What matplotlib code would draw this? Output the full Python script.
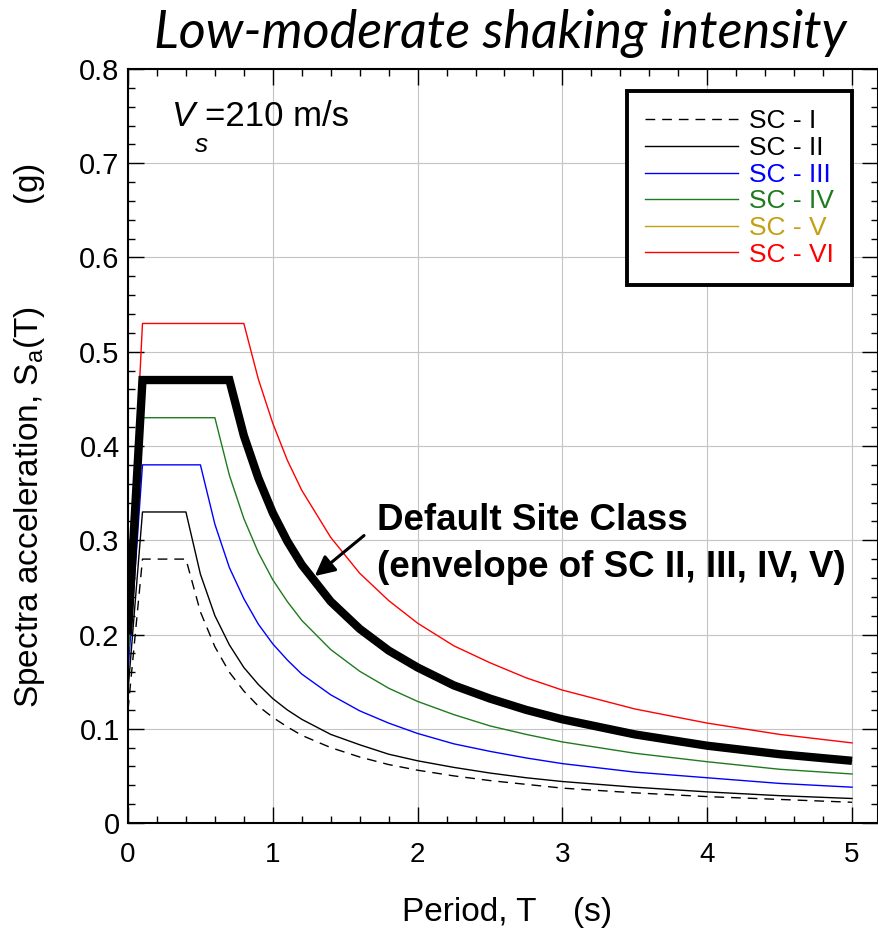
import numpy as np
import matplotlib.pyplot as plt

plt.rcParams['font.family'] = ['Liberation Sans', 'DejaVu Sans']

# period grid (s) shared by all curves
period = [0, 0.1, 0.2, 0.3, 0.4, 0.5, 0.6, 0.7, 0.8, 0.9, 1.0, 1.1, 1.2, 1.4,
          1.6, 1.8, 2.0, 2.25, 2.5, 2.75, 3.0, 3.5, 4.0, 4.5, 5.0]

# spectral acceleration (g)
sc1 = [0.12, 0.28, 0.28, 0.28, 0.28, 0.224, 0.187, 0.160, 0.140, 0.124, 0.112,
       0.102, 0.093, 0.080, 0.070, 0.062, 0.056, 0.050, 0.045, 0.041, 0.037,
       0.032, 0.028, 0.025, 0.022]
sc2 = [0.14, 0.33, 0.33, 0.33, 0.33, 0.264, 0.220, 0.189, 0.165, 0.147, 0.132,
       0.120, 0.110, 0.094, 0.083, 0.073, 0.066, 0.059, 0.053, 0.048, 0.044,
       0.038, 0.033, 0.029, 0.026]
sc3 = [0.16, 0.38, 0.38, 0.38, 0.38, 0.38, 0.317, 0.271, 0.238, 0.211, 0.190,
       0.173, 0.158, 0.136, 0.119, 0.106, 0.095, 0.084, 0.076, 0.069, 0.063,
       0.054, 0.048, 0.042, 0.038]
sc4 = [0.17, 0.43, 0.43, 0.43, 0.43, 0.43, 0.43, 0.369, 0.323, 0.287, 0.258,
       0.235, 0.215, 0.184, 0.161, 0.143, 0.129, 0.115, 0.103, 0.094, 0.086,
       0.074, 0.065, 0.057, 0.052]
sc5 = [0.20, 0.47, 0.47, 0.47, 0.47, 0.47, 0.47, 0.47, 0.411, 0.366, 0.329,
       0.299, 0.274, 0.235, 0.206, 0.183, 0.165, 0.146, 0.132, 0.120, 0.110,
       0.094, 0.082, 0.073, 0.066]
sc6 = [0.22, 0.53, 0.53, 0.53, 0.53, 0.53, 0.53, 0.53, 0.53, 0.471, 0.424,
       0.385, 0.353, 0.303, 0.265, 0.236, 0.212, 0.188, 0.170, 0.154, 0.141,
       0.121, 0.106, 0.094, 0.085]
default_sc = sc5  # envelope of SC II-V

labels = ['SC - I', 'SC - II', 'SC - III', 'SC - IV', 'SC - V', 'SC - VI']
colors = ['black', 'black', '#0000ff', '#1f7a1f', '#c4a010', '#ff0000']

W, H = 879, 931
fig = plt.figure(figsize=(W / 100, H / 100), dpi=100)
ax = fig.add_axes([128 / W, 1 - 823 / H, (878 - 128) / W, (823 - 69) / H])


def px(x, y):
    return x / W, 1 - y / H


lines = []
for vals, lab, c in zip([sc1, sc2, sc3, sc4, sc5, sc6], labels, colors):
    ls = (0, (7, 5)) if lab == 'SC - I' else '-'
    l, = ax.plot(period, vals, color=c, lw=1.0, ls=ls, label=lab)
    lines.append(l)
ax.plot(period, default_sc, color='black', lw=6, solid_capstyle='butt',
        solid_joinstyle='miter', zorder=5)

ax.set_xlim(0, 5 + 26 / 145)
ax.set_ylim(0, 0.8)
ax.set_xticks([0, 1, 2, 3, 4, 5])
ax.set_xticks(np.arange(0, 5.01, 0.2), minor=True)
ax.set_yticks(np.arange(0, 0.81, 0.1))
ax.set_yticks(np.arange(0, 0.801, 0.02), minor=True)
ax.set_yticklabels(['0', '0.1', '0.2', '0.3', '0.4', '0.5', '0.6', '0.7', '0.8'])
ax.grid(True, which='major', color='#c4c4c4', lw=0.8)
ax.set_axisbelow(True)
ax.tick_params(which='both', direction='in', top=True, right=True, width=1.0)
ax.tick_params(which='major', length=11.5)
ax.tick_params(which='minor', length=5)
ax.tick_params(axis='y', labelsize=21, pad=6)
ax.tick_params(axis='x', labelsize=20, pad=14)
for s in ax.spines.values():
    s.set_linewidth(1.5)

leg = ax.legend(handles=lines, loc='upper right',
                bbox_to_anchor=px(852, 91), bbox_transform=fig.transFigure,
                borderaxespad=0, fontsize=19, handlelength=3.5,
                handletextpad=0.42, labelspacing=0.1, borderpad=0.7,
                fancybox=False, framealpha=1, edgecolor='black')
leg.get_frame().set_linewidth(2.8)
for t, c in zip(leg.get_texts(), colors):
    t.set_color(c)

# annotation for default site class
ax.annotate('', xy=(1.29, 0.262), xytext=(1.63, 0.305),
            arrowprops=dict(arrowstyle='-|>', lw=2.2, color='black',
                            mutation_scale=30, shrinkA=0, shrinkB=0))
ax.text(1.72, 0.311, 'Default Site Class', fontsize=26.5, fontweight='bold',
        va='baseline', ha='left')
ax.text(1.72, 0.261, '(envelope of SC II, III, IV, V)', fontsize=26.5,
        fontweight='bold', va='baseline', ha='left')

# Vs label
fig.text(*px(172, 126), 'V', fontsize=25, fontstyle='italic', va='baseline')
fig.text(*px(195, 152), 's', fontsize=19, fontstyle='italic', va='baseline')
fig.text(*px(205, 126), '=210 m/s', fontsize=25, va='baseline')

fig.text(*px(507, 912), 'Period, T    (s)', fontsize=24, ha='center',
         va='center')
fig.text(*px(30, 436),
         r'Spectra acceleration, S$_\mathregular{a}$(T)           (g)',
         fontsize=24, rotation=90, ha='center', va='center')

fig.text(*px(500, 33), 'Low-moderate shaking intensity', fontsize=37.5,
         fontstyle='italic', ha='center', va='center',
         family=['Lato', 'DejaVu Sans'])

fig.savefig('out.png', dpi=100)
